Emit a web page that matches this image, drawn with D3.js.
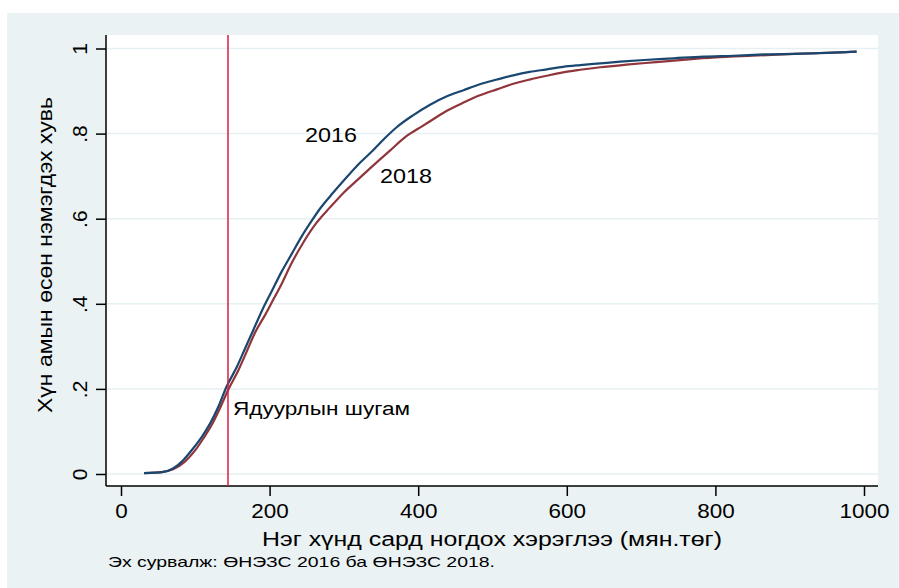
<!DOCTYPE html>
<html><head><meta charset="utf-8">
<script src="https://cdn.jsdelivr.net/npm/d3@7"></script>
<style>body{margin:0;background:#fff}svg{display:block}text{font-family:"Liberation Sans",Arial,sans-serif}</style>
</head><body><svg id="c" width="899" height="588"></svg>
<script>
const xTicks=[0,200,400,600,800,1000];
const yTicks=[0,0.2,0.4,0.6,0.8,1];
const yTickLabels=["0",".2",".4",".6",".8","1"];
const povertyLine=144;
const x2016=[31,57,70,84,97,109,120,131,142,156,167,178,190,203,216,230,243,257,268,286,304,322,340,355,371,393,416,438,461,483,506,528,550,573,595,618,645,672,704,744,784,824,866,940,970,990];
const y2016=[0.002,0.005,0.013,0.033,0.060,0.088,0.119,0.158,0.205,0.252,0.295,0.338,0.385,0.430,0.475,0.518,0.558,0.596,0.624,0.662,0.698,0.732,0.762,0.789,0.815,0.843,0.868,0.887,0.902,0.916,0.927,0.937,0.945,0.951,0.957,0.961,0.965,0.969,0.973,0.977,0.981,0.983,0.986,0.989,0.991,0.9925];
const x2018=[31,57,70,86,100,111,122,133,144,158,169,180,194,205,216,228,245,263,281,299,322,340,362,385,405,416,438,461,483,506,528,550,573,595,618,645,680,720,760,800,850,890,950,990];
const y2018=[0.002,0.005,0.011,0.029,0.056,0.084,0.115,0.154,0.197,0.244,0.287,0.331,0.374,0.410,0.446,0.490,0.543,0.590,0.626,0.660,0.697,0.726,0.760,0.795,0.817,0.829,0.853,0.873,0.890,0.904,0.917,0.927,0.936,0.944,0.950,0.956,0.962,0.968,0.974,0.979,0.983,0.986,0.990,0.9925];
const xTitle="Нэг хүнд сард ногдох хэрэглээ (мян.төг)";
const yTitle="Хүн амын өсөн нэмэгдэх хувь";
const note="Эх сурвалж: ӨНЭЗС 2016 ба ӨНЭЗС 2018.";
const povertyLabel="Ядуурлын шугам";
const seriesNames=["2016","2018"];

const svg=d3.select("#c");
svg.append("rect").attr("x",7).attr("y",13).attr("width",892).attr("height",575).attr("fill","#eaf2f3");
const L=106,R=878,T=35,B=486;
svg.append("rect").attr("x",L).attr("y",T).attr("width",R-L).attr("height",B-T).attr("fill","#fff");
const x=d3.scaleLinear().domain([0,1000]).range([121,864]);
const y=d3.scaleLinear().domain([0,1]).range([474,48.5]);
// grid
svg.append("g").selectAll("line").data(yTicks).join("line")
 .attr("x1",L).attr("x2",R).attr("y1",d=>y(d)).attr("y2",d=>y(d))
 .attr("stroke","#e6eff1").attr("stroke-width",1.5);
// axes
const ya=svg.append("g").attr("transform",`translate(${L},0)`)
 .call(d3.axisLeft(y).tickValues(yTicks).tickFormat((d,i)=>yTickLabels[i]).tickSize(10).tickSizeOuter(0));
ya.select(".domain").attr("d",`M0,${T}V${B}`).attr("stroke","#000").attr("stroke-width",1.5);
ya.selectAll(".tick line").attr("stroke","#000").attr("stroke-width",1.5);
ya.selectAll(".tick text").attr("font-size",21).attr("fill","#000").attr("font-family","'Liberation Sans',Arial,sans-serif")
 .attr("transform","rotate(-90)").attr("x",0).attr("y",-19).attr("dy","0").attr("text-anchor","middle");
const xa=svg.append("g").attr("transform",`translate(0,${B})`)
 .call(d3.axisBottom(x).tickValues(xTicks).tickFormat(d3.format("d")).tickSize(10).tickSizeOuter(0));
xa.select(".domain").attr("d",`M${L},0H${R}`).attr("stroke","#000").attr("stroke-width",1.5);
xa.selectAll(".tick line").attr("stroke","#000").attr("stroke-width",1.5);
xa.selectAll(".tick text").attr("font-size",21).attr("fill","#000").attr("font-family","'Liberation Sans',Arial,sans-serif")
 .attr("y",17).each(function(d){const t=d3.select(this);t.attr("textLength",String(d).length*12.5).attr("lengthAdjust","spacingAndGlyphs");});
// lines
const line=d3.line().x(d=>x(d[0])).y(d=>y(d[1])).curve(d3.curveMonotoneX);
const d16=x2016.map((v,i)=>[v,y2016[i]]);
const d18=x2018.map((v,i)=>[v,y2018[i]]);
svg.append("path").datum(d18).attr("d",line).attr("fill","none").attr("stroke","#90353b").attr("stroke-width",2.2);
svg.append("path").datum(d16).attr("d",line).attr("fill","none").attr("stroke","#1a476f").attr("stroke-width",2.2);
// poverty line
svg.append("line").attr("x1",x(povertyLine)).attr("x2",x(povertyLine)).attr("y1",T).attr("y2",B)
 .attr("stroke","#dc1c44").attr("stroke-width",1.5);
svg.append("text").attr("x",233).attr("y",415).attr("font-size",18).attr("textLength",177).attr("lengthAdjust","spacingAndGlyphs").text(povertyLabel);
svg.append("text").attr("x",305).attr("y",141.5).attr("font-size",21).attr("textLength",52).attr("lengthAdjust","spacingAndGlyphs").text(seriesNames[0]);
svg.append("text").attr("x",380).attr("y",183).attr("font-size",21).attr("textLength",52).attr("lengthAdjust","spacingAndGlyphs").text(seriesNames[1]);
svg.append("text").attr("x",262).attr("y",546).attr("font-size",20).attr("textLength",460).attr("lengthAdjust","spacingAndGlyphs").text(xTitle);
svg.append("text").attr("transform","translate(52,413) rotate(-90)").attr("font-size",21).attr("textLength",316).attr("lengthAdjust","spacingAndGlyphs").text(yTitle);
svg.append("text").attr("x",108).attr("y",567).attr("font-size",15).attr("textLength",387).attr("lengthAdjust","spacingAndGlyphs").text(note);
</script></body></html>
